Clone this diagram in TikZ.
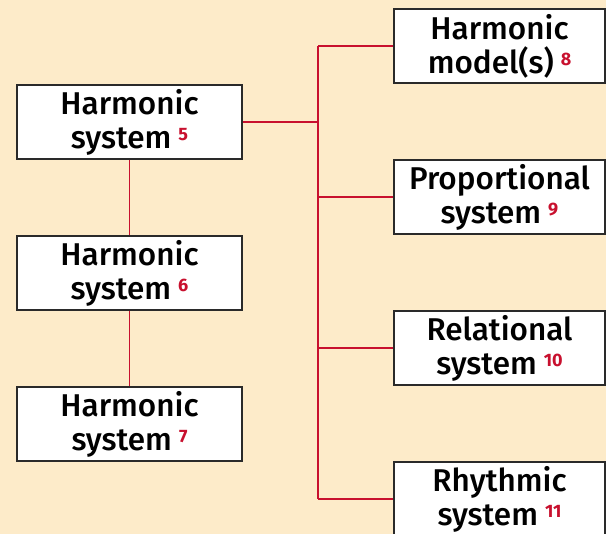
\documentclass[tikz,border=0pt]{standalone}
\usepackage{fontspec}
\setmainfont{Fira Sans Medium}
\newfontfamily\numfont{Fira Sans Bold}
\definecolor{bg}{HTML}{FDEBC9}
\definecolor{lnred}{HTML}{C8102E}
\definecolor{boxline}{HTML}{2A2A2A}
\newcommand{\refnum}[1]{\hspace{7pt}\raisebox{8pt}{\fontsize{18}{18}\numfont\color{lnred}#1}}
\tikzset{
  box/.style={draw=boxline, line width=1.5pt, fill=white, minimum width=225pt, minimum height=74pt, inner sep=0pt, align=center, font=\fontsize{31.5}{34}\selectfont},
  rbox/.style={box, minimum width=211pt},
  conn/.style={draw=lnred, line width=1.5pt}
}
\begin{document}
\begin{tikzpicture}[x=1pt,y=-1pt]
\useasboundingbox (0,0) rectangle (606,534);
\fill[bg] (0,0) rectangle (606,534);
\clip (0,0) rectangle (606,534);
\node[box] (b5) at (129.5,122) {Harmonic\\system\refnum{5}};
\node[box] (b6) at (129.5,273) {Harmonic\\system\refnum{6}};
\node[box] (b7) at (129.5,424) {Harmonic\\system\refnum{7}};
\node[rbox] (b8) at (499.5,46) {Harmonic\\model(s)\refnum{8}};
\node[rbox] (b9) at (499.5,197) {Proportional\\system\refnum{9}};
\node[rbox] (b10) at (499.5,348) {Relational\\system\refnum{10}};
\node[rbox] (b11) at (499.5,499) {Rhythmic\\system\refnum{11}};
\coordinate (t8) at (318,46);
\coordinate (t9) at (318,197);
\coordinate (t10) at (318,348);
\coordinate (t11) at (318,499);
\coordinate (t5) at (318,122);
\path[conn, line width=1.3pt] (b5.south) -- (b6.north);
\path[conn, line width=1.3pt] (b6.south) -- (b7.north);
\path[conn, line width=2pt] (b5.east) -- (t5);
\path[conn] (t8) -- (t11);
\path[conn] (t8) -- (b8.west);
\path[conn] (t9) -- (b9.west);
\path[conn] (t10) -- (b10.west);
\path[conn] (t11) -- (b11.west);
\end{tikzpicture}
\end{document}
